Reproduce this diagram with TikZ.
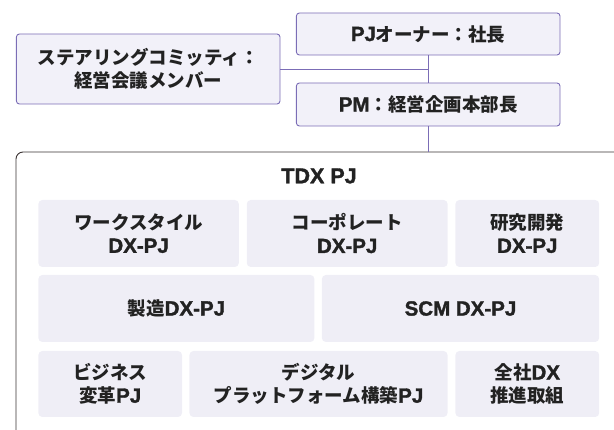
\documentclass[tikz,border=0pt]{standalone}
\usepackage{fontspec}
\setmainfont{Noto Sans CJK JP}
\newfontfamily\latfont{Liberation Sans}[FakeBold=1.6]
\newcommand\latn[1]{{\latfont\fontsize{20.5}{23}\selectfont #1}}
\definecolor{purp}{HTML}{7B6DB6}
\definecolor{topfill}{HTML}{F2F1F9}
\definecolor{infill}{HTML}{EFEEF6}
\definecolor{frame}{HTML}{3A3232}
\definecolor{txt}{HTML}{222222}
\tikzset{
  topbox/.style={draw=purp, line width=0.9pt, fill=topfill, rounded corners=3pt, inner sep=0pt, align=center, text=txt, font=\fontsize{18.5}{23}\selectfont\bfseries},
  inbox/.style={fill=infill, rounded corners=4pt, inner sep=0pt, align=center, text=txt, font=\fontsize{18.5}{23}\selectfont\bfseries},
  link/.style={draw=purp, line width=0.9pt}
}
\begin{document}
\begin{tikzpicture}[x=1pt,y=-1pt]
\useasboundingbox (0,0) rectangle (614,430);
\clip (0,0) rectangle (614,430);
\node[topbox, minimum width=263.6pt, minimum height=42pt] (owner) at (428.2,34) {\latn{PJ}オーナー：社長};
\node[topbox, minimum width=263.6pt, minimum height=70pt] (steer) at (148.2,69) {ステアリングコミッティ：\\経営会議メンバー};
\node[topbox, minimum width=263.6pt, minimum height=43pt] (pm) at (428.2,104.5) {\latn{PM}：経営企画本部長};
\node[draw=frame, line width=0.9pt, rounded corners=7pt, minimum width=640pt, minimum height=300pt, inner sep=0pt] (outer) at (336,302) {};
\node[text=txt, font=\latfont\bfseries\fontsize{21.5}{24}\selectfont] (title) at (319,176) {TDX PJ};
\draw[link] (owner.south) -- (pm.north);
\draw[link] (steer.east) -- (steer.east -| owner.south);
\draw[link] (pm.south) -- (pm.south |- outer.north);
% row 1
\node[inbox, minimum width=200.5pt, minimum height=67pt] (ws) at (138.6,233.5) {ワークスタイル\\\latn{DX-PJ}};
\node[inbox, minimum width=200.9pt, minimum height=67pt] (corp) at (347.2,233.5) {コーポレート\\\latn{DX-PJ}};
\node[inbox, minimum width=143.8pt, minimum height=67pt] (rd) at (527.3,233.5) {研究開発\\\latn{DX-PJ}};
% row 2
\node[inbox, minimum width=276.1pt, minimum height=67pt] (mfg) at (176.4,308.5) {製造\latn{DX-PJ}};
\node[inbox, minimum width=277.3pt, minimum height=67pt] (scm) at (460.5,308.5) {\latn{SCM DX-PJ}};
% row 3
\node[inbox, minimum width=143.7pt, minimum height=66pt] (biz) at (110.2,384) {ビジネス\\変革\latn{PJ}};
\node[inbox, minimum width=258.1pt, minimum height=66pt] (dig) at (318.5,384) {デジタル\\プラットフォーム構築\latn{PJ}};
\node[inbox, minimum width=143.8pt, minimum height=66pt] (all) at (527.3,384) {全社\latn{DX}\\推進取組};
\end{tikzpicture}
\end{document}
